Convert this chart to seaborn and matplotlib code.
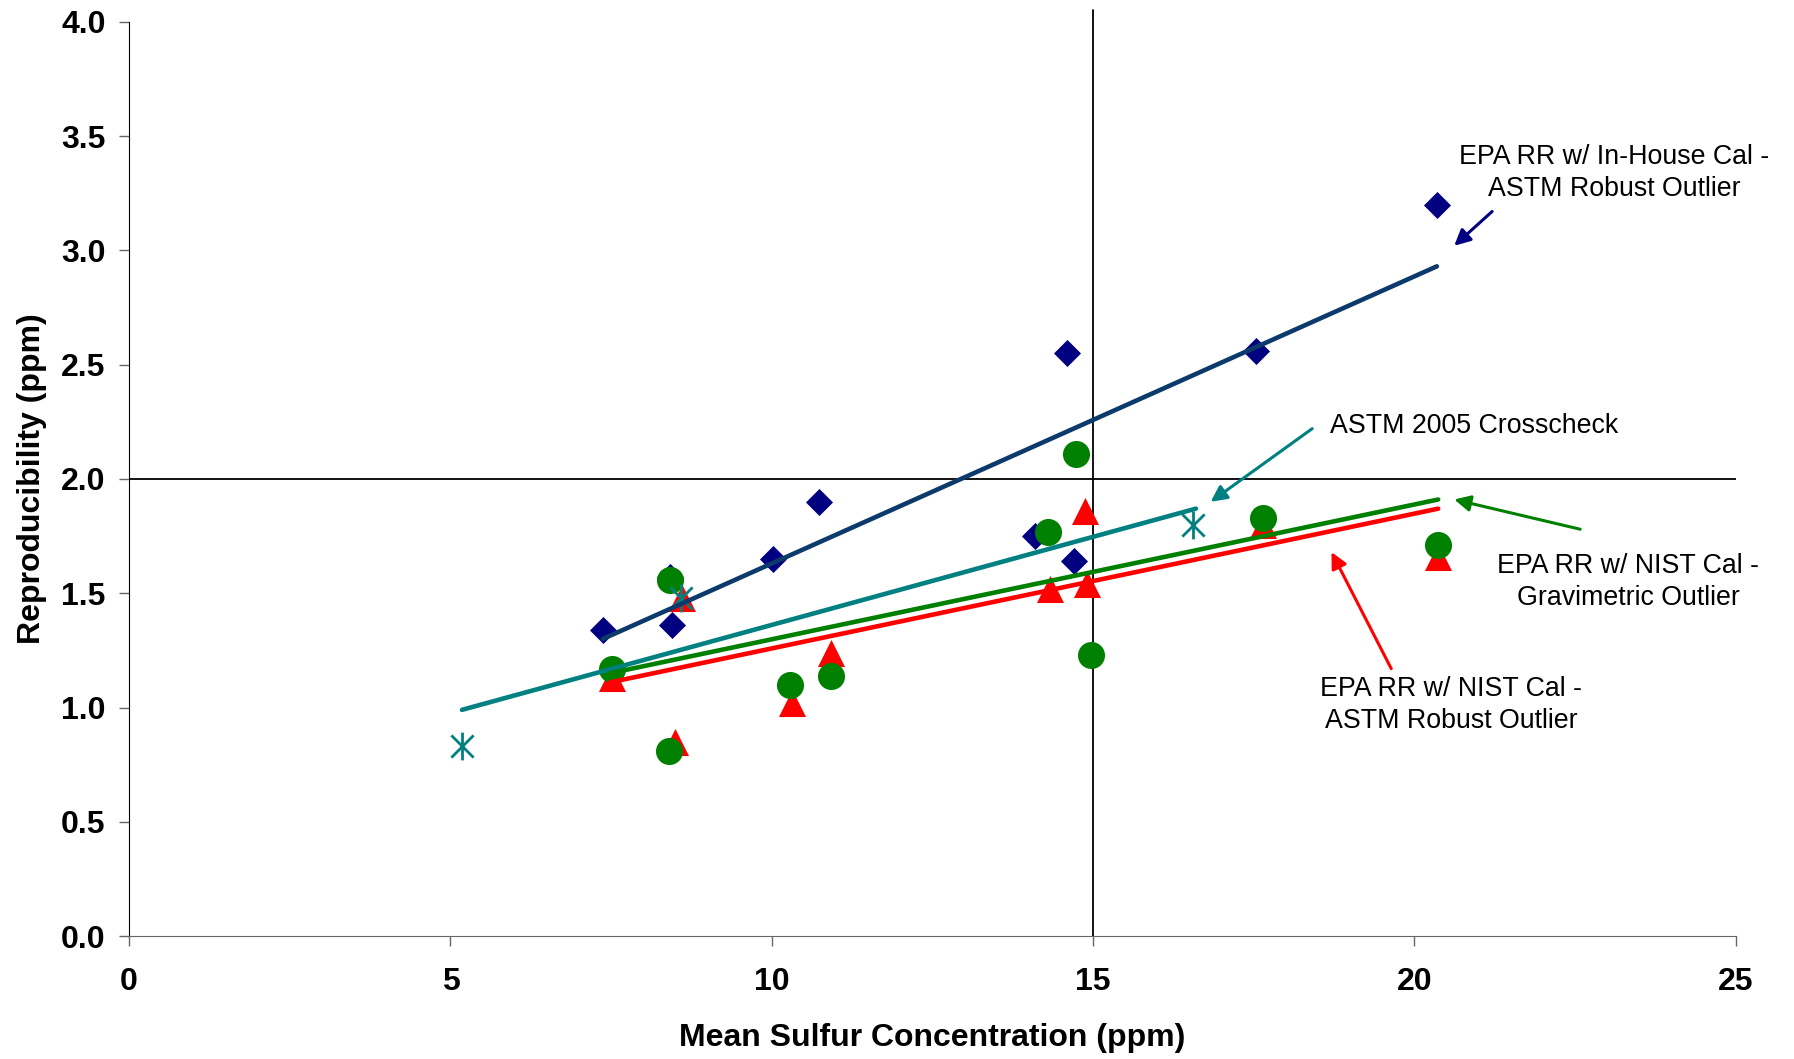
import numpy as np
import pandas as pd
import seaborn as sns
from matplotlib import pyplot as plt
from matplotlib.path import Path

# values
inhouse_x = [7.37, 8.42, 8.44, 10.02, 10.74, 14.10, 14.60, 14.71, 17.54, 20.35]
inhouse_y = [1.34, 1.57, 1.36, 1.65, 1.90, 1.75, 2.55, 1.64, 2.56, 3.20]

robust_x = [7.51, 8.60, 8.49, 10.31, 10.92, 14.33, 14.87, 14.90, 17.65, 20.37]
robust_y = [1.13, 1.48, 0.85, 1.02, 1.24, 1.52, 1.86, 1.54, 1.80, 1.66]

grav_x = [7.51, 8.42, 8.40, 10.29, 10.92, 14.30, 14.73, 14.97, 17.65, 20.37]
grav_y = [1.17, 1.56, 0.81, 1.10, 1.14, 1.77, 2.11, 1.23, 1.83, 1.71]

cross_x = [5.18, 8.58, 16.56]
cross_y = [0.83, 1.48, 1.80]

# trendline end points
trend_inhouse = ([7.37, 20.35], [1.30, 2.93])
trend_cross = ([5.18, 16.60], [0.99, 1.87])
trend_grav = ([7.48, 20.37], [1.15, 1.91])
trend_robust = ([7.48, 20.37], [1.11, 1.87])

navy = '#000080'
navy_line = '#0B3A6B'
teal = '#008080'
green = '#008000'
red = '#FF0000'

sns.set_style('ticks')
plt.rcParams['font.family'] = ['Liberation Sans', 'DejaVu Sans']
plt.rcParams['text.color'] = 'black'
plt.rcParams['axes.labelcolor'] = 'black'
plt.rcParams['xtick.labelcolor'] = 'black'
plt.rcParams['ytick.labelcolor'] = 'black'

fig = plt.figure(figsize=(17.94, 10.59), dpi=100)
ax = fig.add_axes([0.072, 0.116, 0.8955, 0.8635])

# reference lines
ax.axhline(2.0, color='black', lw=1.3, zorder=1)
ax.plot([15, 15], [0, 4.05], color='black', lw=1.3, zorder=1, clip_on=False)

sns.scatterplot(x=inhouse_x, y=inhouse_y, marker='D', s=190, color=navy,
                edgecolor=navy, linewidth=0, ax=ax, zorder=3)
sns.scatterplot(x=robust_x, y=robust_y, marker='^', s=380, color=red,
                edgecolor=red, linewidth=0, ax=ax, zorder=3)
sns.scatterplot(x=grav_x, y=grav_y, marker='o', s=380, color=green,
                edgecolor=green, linewidth=0, ax=ax, zorder=3)

star = Path([(0, -1), (0, 1), (-0.8, -0.8), (0.8, 0.8), (-0.8, 0.8), (0.8, -0.8)],
            [Path.MOVETO, Path.LINETO, Path.MOVETO, Path.LINETO, Path.MOVETO, Path.LINETO])
ax.plot(cross_x, cross_y, linestyle='none', marker=star, markersize=20,
        markeredgecolor=teal, markerfacecolor='none', markeredgewidth=2, zorder=3)

for (tx, ty), c in [(trend_inhouse, navy_line), (trend_cross, teal),
                    (trend_grav, green), (trend_robust, red)]:
    sns.lineplot(x=tx, y=ty, color=c, lw=3.3, ax=ax, zorder=4,
                 solid_capstyle='round')

# annotations
tk = dict(fontsize=19.3, ha='center', va='center', color='black', linespacing=1.3)
ax.text(23.11, 3.34, 'EPA RR w/ In-House Cal -\nASTM Robust Outlier', **tk)
ax.text(18.68, 2.23, 'ASTM 2005 Crosscheck', fontsize=19.3, ha='left', va='center')
ax.text(23.33, 1.55, 'EPA RR w/ NIST Cal -\nGravimetric Outlier', **tk)
ax.text(20.57, 1.01, 'EPA RR w/ NIST Cal -\nASTM Robust Outlier', **tk)

arrows = [((21.21, 3.17), (20.62, 3.02), navy),
          ((18.41, 2.22), (16.83, 1.90), teal),
          ((22.58, 1.78), (20.62, 1.91), green),
          ((19.64, 1.17), (18.71, 1.68), red)]
for tail, head, c in arrows:
    ax.annotate('', xy=head, xytext=tail,
                arrowprops=dict(arrowstyle='-|>', color=c, lw=2.2,
                                mutation_scale=24, shrinkA=0, shrinkB=0))

ax.set_xlim(0, 25)
ax.set_ylim(0, 4)
ax.set_xticks([0, 5, 10, 15, 20, 25])
ax.set_yticks(np.arange(0, 4.01, 0.5))
ax.set_yticklabels([f'{v:.1f}' for v in np.arange(0, 4.01, 0.5)])
ax.tick_params(axis='both', direction='out', length=7, width=1, labelsize=23,
               color='#666666')
for lab in ax.get_xticklabels() + ax.get_yticklabels():
    lab.set_fontweight('bold')
ax.tick_params(axis='x', pad=15)
ax.tick_params(axis='y', pad=10)
sns.despine(ax=ax)
ax.spines['left'].set_color('black')
ax.spines['bottom'].set_color('#666666')

ax.set_xlabel('Mean Sulfur Concentration (ppm)', fontsize=23, fontweight='bold',
              labelpad=19)
ax.set_ylabel('Reproducibility (ppm)', fontsize=23, fontweight='bold', labelpad=10)

fig.savefig('out.png', dpi=100)
